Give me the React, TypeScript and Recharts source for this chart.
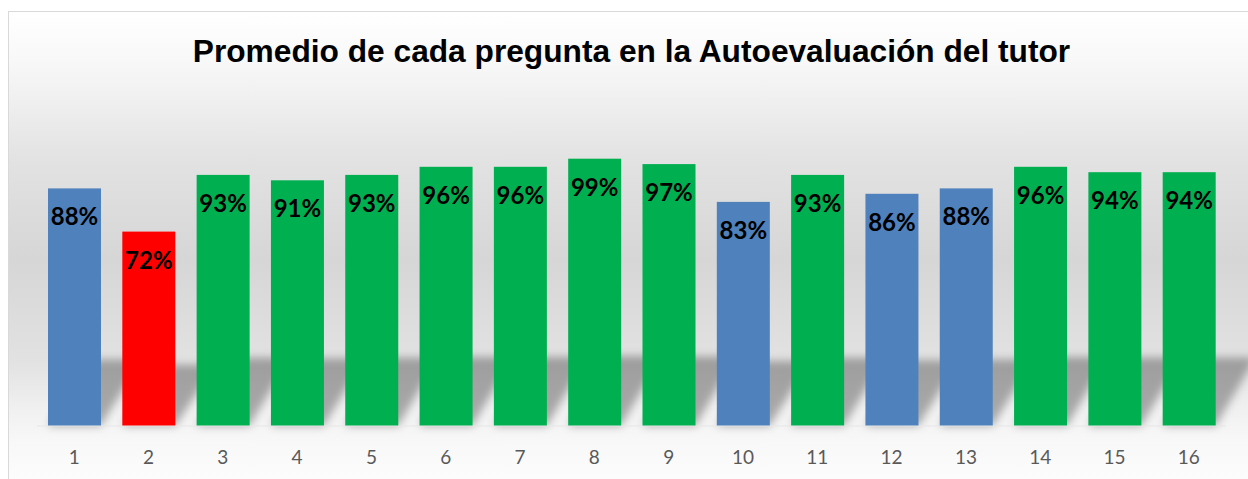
import { BarChart, Bar, XAxis, YAxis, Cell, LabelList } from "recharts";

const preguntas = ["1", "2", "3", "4", "5", "6", "7", "8", "9", "10", "11", "12", "13", "14", "15", "16"];
const promedios = [0.88, 0.72, 0.93, 0.91, 0.93, 0.96, 0.96, 0.99, 0.97, 0.83, 0.93, 0.86, 0.88, 0.96, 0.94, 0.94];

const chartData = preguntas.map((p, i) => ({ pregunta: p, promedio: promedios[i] }));

// verde >= 90%, azul 80-89%, rojo < 80%
const colorFor = (v: number) => (v >= 0.895 ? "#00B050" : v >= 0.795 ? "#4F81BD" : "#FF0000");

function ShadowBar(props: any) {
  const { x, y, width, height, fill } = props;
  if (!width || !height) return null;
  const base = y + height;
  const sh = 38 + 0.12 * height;
  const dx = 40;
  const pts = [
    `${x},${base}`,
    `${x + width},${base}`,
    `${x + width + dx},${base - sh}`,
    `${x + dx},${base - sh}`,
  ].join(" ");
  return (
    <g>
      <polygon points={pts} fill="#000" fillOpacity={0.3} filter="url(#barShadow)" />
      <rect x={x} y={y} width={width} height={height} fill={fill} />
    </g>
  );
}

export default function App() {
  return (
    <div
      style={{
        position: "absolute", left: 8, top: 11, width: 1239, height: 467,
        borderLeft: "1px solid #d9d9d9", borderTop: "1px solid #d9d9d9",
        background: "linear-gradient(to bottom, #ffffff 0%, #f8f8f8 10.5%, #e2e2e2 32%, #d6d6d6 53%, #e2e2e2 75%, #f0f0f0 85%, #f8f8f8 92%, #fcfcfc 100%)",
      }}
    >
      <div
        style={{
          position: "absolute", left: 3, top: 23, width: 1239, textAlign: "center",
          fontFamily: "'Liberation Sans', Arial, sans-serif", fontWeight: 700,
          fontSize: 31.7, lineHeight: "32px", color: "#000",
        }}
      >
        Promedio de cada pregunta en la Autoevaluación del tutor
      </div>
      <BarChart width={1239} height={467} data={chartData}
        margin={{ top: 144, right: 22, left: 28, bottom: 23 }}>
        <defs>
          <filter id="barShadow" x="-50%" y="-50%" width="200%" height="200%">
            <feGaussianBlur stdDeviation="4.5" />
          </filter>
        </defs>
        <XAxis dataKey="pregunta" axisLine={{ stroke: "#e6e6e6" }} tickLine={false} tickMargin={19}
          tick={{ fill: "#595959", fontSize: 19, fontFamily: "Lato, 'Open Sans', sans-serif" }} />
        <YAxis hide domain={[0, 1]} />
        <Bar dataKey="promedio" barSize={53} shape={ShadowBar} isAnimationActive={false}>
          {chartData.map((d) => (
            <Cell key={d.pregunta} fill={colorFor(d.promedio)} />
          ))}
          <LabelList dataKey="promedio" position="insideTop" offset={20}
            formatter={(v: any) => `${Math.round(Number(v) * 100)}%`}
            style={{ fill: "#000", fontSize: 24, fontWeight: 700, fontFamily: "Lato, 'Open Sans', sans-serif" }} />
        </Bar>
      </BarChart>
    </div>
  );
}
